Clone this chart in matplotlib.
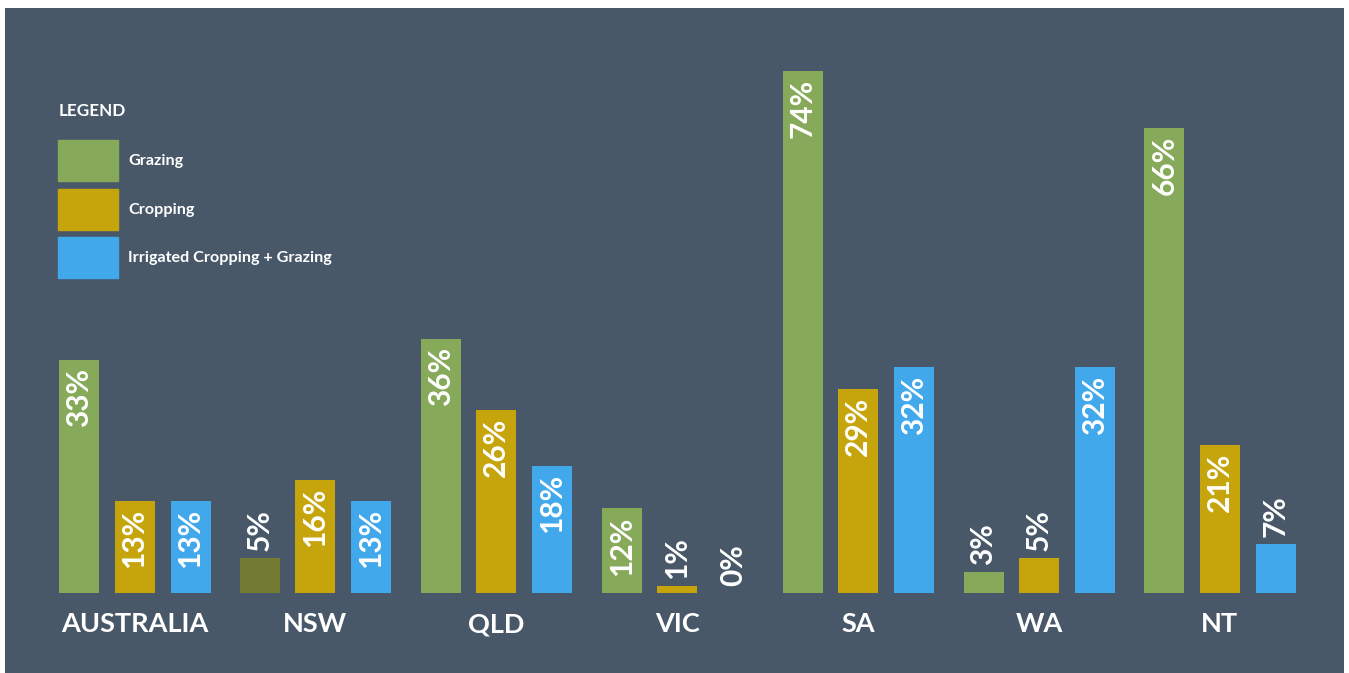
import matplotlib
matplotlib.use("Agg")
import matplotlib.pyplot as plt
from matplotlib.patches import Rectangle
import numpy as np

regions = ["AUSTRALIA", "NSW", "QLD", "VIC", "SA", "WA", "NT"]
series_names = ["Grazing", "Cropping", "Irrigated Cropping + Grazing"]
grazing = [33, 5, 36, 12, 74, 3, 66]
cropping = [13, 16, 26, 1, 29, 5, 21]
irrigated = [13, 13, 18, 0, 32, 32, 7]

W, H = 1349, 673
BG = "#485869"
colors = ["#87a95a", "#c5a50b", "#42a8ec"]
special = {(1, 0): "#737b32"}  # NSW grazing drawn darker in reference

plt.rcParams['font.family'] = ['Lato', 'DejaVu Sans']
fig = plt.figure(figsize=(W / 100, H / 100), dpi=100, facecolor="white")

px_per_pct = 7.05
base_px = 593
left_px, right_px, top_px, bottom_px = 5, 1344, 8, 673
ax = fig.add_axes([left_px / W, 1 - bottom_px / H, (right_px - left_px) / W, (bottom_px - top_px) / H])
ax.set_facecolor(BG)
group_sp = 180.9
c0 = 134.5
ax.set_xlim(-(c0 - left_px) / group_sp, (right_px - c0) / group_sp)
ax.set_ylim(-(bottom_px - base_px) / px_per_pct, (base_px - top_px) / px_per_pct)
ax.axis("off")
ax.add_patch(Rectangle((0, 0), 1, 1, transform=ax.transAxes, color=BG, zorder=0))

offsets = np.array([-55.5, 0, 56]) / group_sp
bw = 40 / group_sp
x = np.arange(len(regions))
for s, vals in enumerate([grazing, cropping, irrigated]):
    for i, v in enumerate(vals):
        col = special.get((i, s), colors[s])
        xi = x[i] + offsets[s]
        if v > 0:
            ax.bar(xi, v, width=bw, color=col, zorder=2)
        if v * px_per_pct > 75:
            ax.annotate(f"{v}%", xy=(xi, v), xytext=(0, -8), textcoords="offset pixels",
                        rotation=90, ha="center", va="top", color="white",
                        fontsize=21.5, fontweight="bold", zorder=3)
        else:
            ax.annotate(f"{v}%", xy=(xi, v), xytext=(0, 7), textcoords="offset pixels",
                        rotation=90, ha="center", va="bottom", color="white",
                        fontsize=21.5, fontweight="bold", zorder=3)

for i, r in enumerate(regions):
    ax.annotate(r, xy=(x[i], 0), xytext=(0, -31), textcoords="offset pixels",
                ha="center", va="center", color="white", fontsize=19.5, fontweight="bold")

# legend
fig.text(59 / W, 1 - 111 / H, "LEGEND", color="white", fontsize=12.3, fontweight="bold",
         ha="left", va="center")
leg_tops = [140, 189, 237]
for s, name in enumerate(series_names):
    t = leg_tops[s]
    fig.add_artist(Rectangle((58 / W, 1 - (t + 41) / H), 60 / W, 41 / H,
                             transform=fig.transFigure, color=colors[s]))
    fig.text(128 / W, 1 - (t + 21) / H, name, color="white", fontsize=11.6,
             fontweight="bold", ha="left", va="center")

fig.savefig("out.png", dpi=100, facecolor="white")
